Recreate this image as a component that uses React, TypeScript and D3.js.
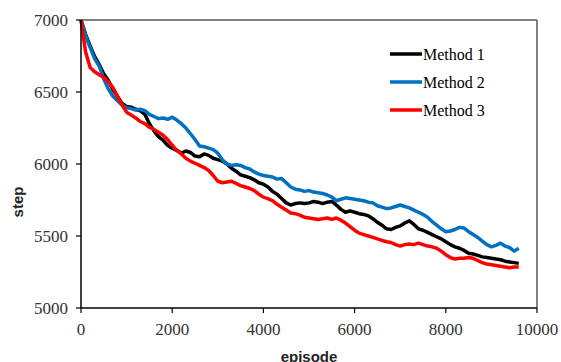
import { useMemo } from 'react';
import * as d3 from 'd3';

const episodes = d3.range(0, 9601, 100);

const method1 = [
  7000, 6900, 6820, 6745, 6690, 6625, 6580, 6515, 6470, 6420,
  6400, 6395, 6380, 6370, 6345, 6280, 6230, 6190, 6165, 6130,
  6110, 6095, 6075, 6090, 6080, 6055, 6050, 6070, 6060, 6040,
  6030, 6020, 6000, 5970, 5950, 5925, 5915, 5905, 5890, 5870,
  5860, 5840, 5810, 5790, 5760, 5730, 5715, 5725, 5730, 5725,
  5730, 5740, 5735, 5725, 5735, 5740, 5715, 5685, 5665, 5675,
  5665, 5655, 5650, 5640, 5620, 5595, 5575, 5550, 5545, 5560,
  5570, 5590, 5605, 5580, 5550, 5540, 5525, 5510, 5495, 5480,
  5460, 5440, 5425, 5415, 5400, 5380, 5375, 5365, 5355, 5350,
  5345, 5340, 5335, 5325, 5320, 5315, 5310,
];

const method2 = [
  7000, 6890, 6810, 6730, 6680, 6590, 6520, 6470, 6440, 6410,
  6390, 6385, 6375, 6380, 6370, 6345, 6330, 6315, 6320, 6310,
  6325, 6305, 6280, 6250, 6210, 6170, 6125, 6120, 6110, 6100,
  6075, 6030, 6000, 5990, 5995, 5990, 5975, 5965, 5945, 5930,
  5920, 5915, 5910, 5895, 5900, 5870, 5840, 5825, 5820, 5810,
  5815, 5805, 5800, 5795, 5785, 5770, 5745, 5755, 5765, 5760,
  5755, 5750, 5745, 5735, 5730, 5710, 5700, 5690, 5695, 5705,
  5715, 5705, 5695, 5680, 5665, 5650, 5630, 5600, 5575, 5550,
  5530, 5535, 5545, 5560, 5555, 5530, 5510, 5490, 5465, 5440,
  5425, 5435, 5450, 5430, 5420, 5395, 5415,
];

const method3 = [
  7000, 6780, 6670, 6640, 6620, 6600, 6570, 6530, 6470, 6410,
  6360, 6340, 6320, 6295, 6280, 6255, 6240, 6220, 6200, 6170,
  6130, 6095, 6070, 6040, 6020, 6005, 5990, 5975, 5955, 5920,
  5880, 5870, 5875, 5880, 5865, 5850, 5840, 5830, 5815, 5790,
  5770, 5760, 5745, 5720, 5700, 5680, 5660, 5655, 5645, 5630,
  5625, 5620, 5615, 5620, 5625, 5615, 5625, 5610, 5590, 5565,
  5540, 5520, 5510, 5500, 5490, 5480, 5470, 5460, 5455, 5440,
  5430, 5440, 5445, 5440, 5450, 5440, 5430, 5425, 5415, 5395,
  5370, 5350, 5340, 5345, 5345, 5350, 5345, 5330, 5315, 5305,
  5300, 5295, 5290, 5285, 5280, 5285, 5285,
];

const seriesNames = ['Method 1', 'Method 2', 'Method 3'];
const seriesColors = ['#000000', '#0070C0', '#FF0000'];
const xTicks = [0, 2000, 4000, 6000, 8000, 10000];
const yTicks = [5000, 5500, 6000, 6500, 7000];

const W = 561;
const H = 362;
const serif = '"Liberation Serif", "Times New Roman", serif';
const sans = '"Liberation Sans", Arial, sans-serif';

export default function App() {
  const x = useMemo(() => d3.scaleLinear().domain([0, 10000]).range([81, 537]), []);
  const y = useMemo(() => d3.scaleLinear().domain([5000, 7000]).range([308, 20]), []);
  const line = d3
    .line<number>()
    .x((_, i) => x(episodes[i]))
    .y((v) => y(v));

  const all = [method1, method2, method3];

  return (
    <svg width={W} height={H} style={{ position: 'absolute', left: 0, top: 0 }}>
      <rect width={W} height={H} fill="#fff" />
      {/* frame */}
      <line x1={81} x2={537} y1={20} y2={20} stroke="#595959" strokeWidth={1.5} />
      <line x1={537} x2={537} y1={20} y2={308} stroke="#595959" strokeWidth={1.5} />

      {all.map((vals, i) => (
        <path key={i} d={line(vals) || ''} fill="none" stroke={seriesColors[i]} strokeWidth={3.5} strokeLinejoin="round" />
      ))}

      {/* axes */}
      <line x1={81} x2={81} y1={20} y2={308} stroke="#000" strokeWidth={1.5} />
      <line x1={81} x2={537} y1={308} y2={308} stroke="#000" strokeWidth={1.5} />
      {yTicks.map((t) => (
        <g key={t}>
          <line x1={76} x2={81} y1={y(t)} y2={y(t)} stroke="#000" strokeWidth={1.2} />
          <text x={68} y={y(t)} dy="0.35em" textAnchor="end" fontFamily={serif} fontSize={17} fill="#333">
            {t}
          </text>
        </g>
      ))}
      {xTicks.map((t) => (
        <g key={t}>
          <line x1={x(t)} x2={x(t)} y1={308} y2={313} stroke="#000" strokeWidth={1.2} />
          <text x={x(t)} y={335} textAnchor="middle" fontFamily={serif} fontSize={17} fill="#333">
            {t}
          </text>
        </g>
      ))}

      <text x={309} y={362} textAnchor="middle" fontFamily={sans} fontWeight="bold" fontSize={15} fill="#222">
        episode
      </text>
      <text
        transform="translate(23,202) rotate(-90)"
        textAnchor="middle"
        fontFamily={sans}
        fontWeight="bold"
        fontSize={15}
        fill="#222"
      >
        step
      </text>

      {/* legend */}
      {seriesNames.map((name, i) => (
        <g key={name} transform={`translate(390,${54 + i * 28})`}>
          <line x1={0} x2={32} y1={0} y2={0} stroke={seriesColors[i]} strokeWidth={3.5} />
          <text x={33} y={0} dy="0.35em" fontFamily={serif} fontSize={16} fill="#000">
            {name}
          </text>
        </g>
      ))}
    </svg>
  );
}
